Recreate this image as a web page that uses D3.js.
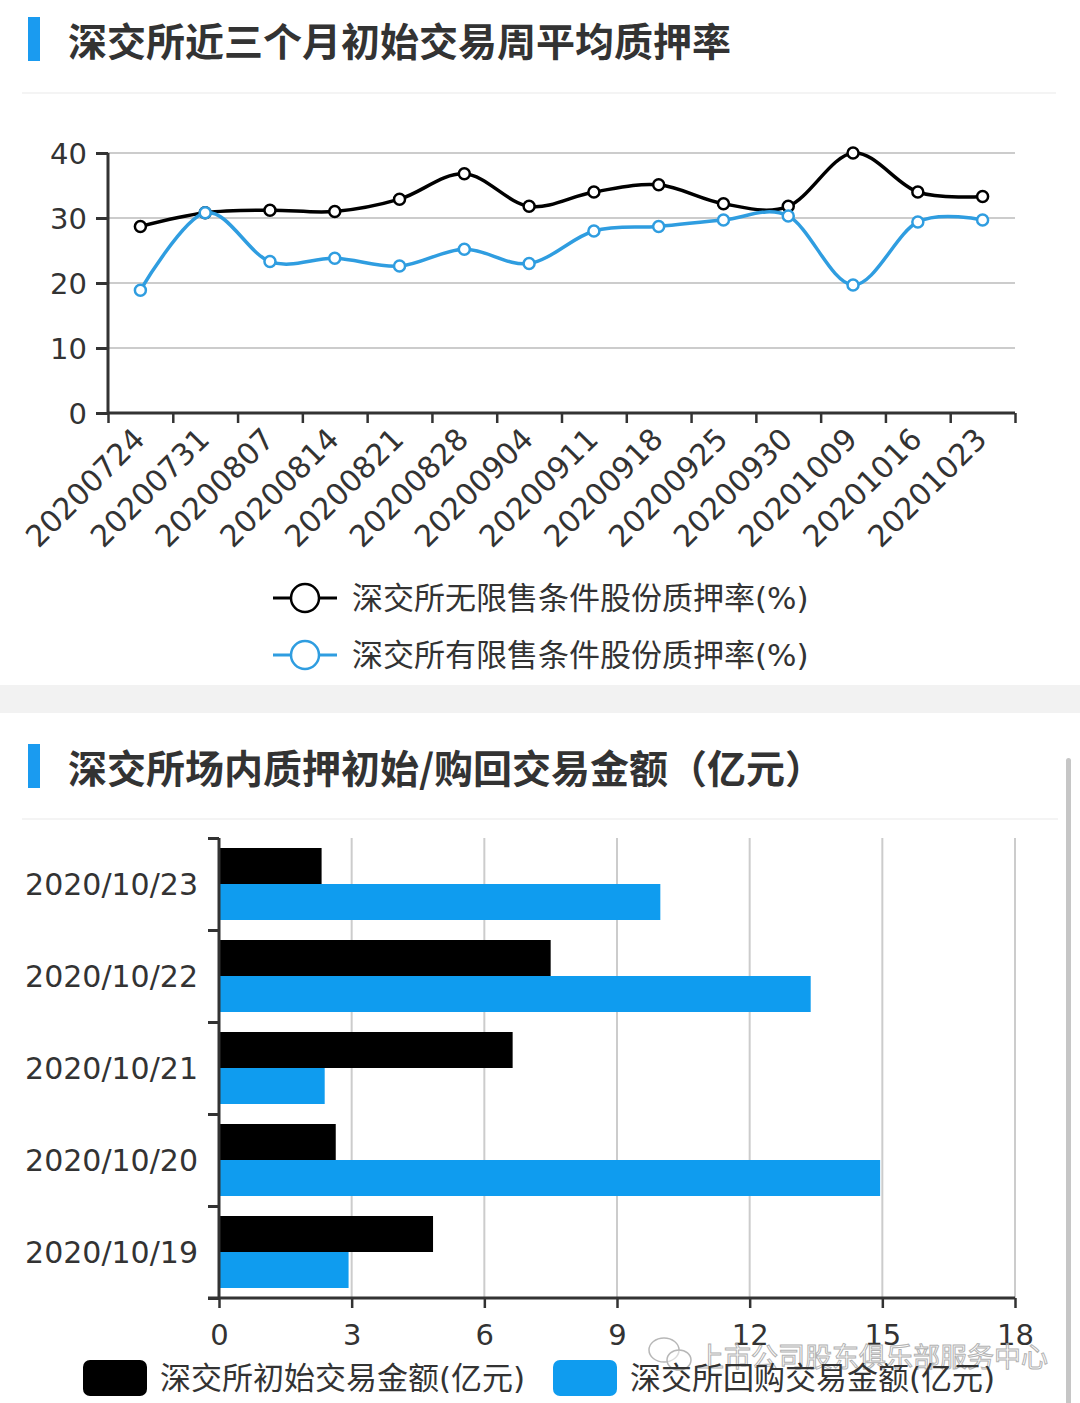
<!DOCTYPE html>
<html><head><meta charset="utf-8">
<script src="https://cdn.jsdelivr.net/npm/d3@7"></script>
<style>
html,body{margin:0;padding:0;background:#fff;}
svg{display:block;font-family:"Noto Sans CJK SC","Noto Sans",sans-serif;}
</style></head><body>
<svg id="c" width="1080" height="1403"></svg>
<script>
// ---- data ----
const title1 = "深交所近三个月初始交易周平均质押率";
const title2 = "深交所场内质押初始/购回交易金额（亿元）";
const weeks = ["20200724","20200731","20200807","20200814","20200821","20200828","20200904","20200911","20200918","20200925","20200930","20201009","20201016","20201023"];
const unrestrictedRate = [28.7,30.8,31.2,31.0,32.9,36.8,31.8,34.0,35.1,32.2,31.8,40.0,34.0,33.3];
const restrictedRate = [18.9,30.8,23.3,23.8,22.6,25.2,23.0,28.0,28.7,29.7,30.3,19.7,29.4,29.7];
const rateTicks = [0,10,20,30,40];
const lineNames = ["深交所无限售条件股份质押率(%)","深交所有限售条件股份质押率(%)"];

const days = ["2020/10/23","2020/10/22","2020/10/21","2020/10/20","2020/10/19"];
const initialAmount = [2.32,7.5,6.64,2.64,4.84];
const repoAmount = [9.98,13.38,2.39,14.95,2.93];
const amountTicks = [0,3,6,9,12,15,18];
const barNames = ["深交所初始交易金额(亿元)","深交所回购交易金额(亿元)"];
const watermark = "上市公司股东俱乐部服务中心";

const BLACK = "#000000", LINEBLUE = "#2f9de0", BARBLUE = "#0f9cef", TXT = "#333333", GRID = "#cccccc", AX = "#333333";
const NUMFONT = "'DejaVu Sans','Noto Sans CJK SC',sans-serif";
const MIXFONT = "'DejaVu Sans','Noto Sans CJK SC',sans-serif";

const svg = d3.select("#c");

// ---- page chrome ----
svg.append("rect").attr("x",0).attr("y",685).attr("width",1080).attr("height",28).attr("fill","#f2f2f2");
svg.append("rect").attr("x",22).attr("y",92).attr("width",1034).attr("height",2).attr("fill","#f4f4f4");
svg.append("rect").attr("x",22).attr("y",818).attr("width",1036).attr("height",2).attr("fill","#f4f4f4");
svg.append("rect").attr("x",1066).attr("y",758).attr("width",5).attr("height",660).attr("rx",2.5).attr("fill","#c6c6c6");

function title(y, text){
  svg.append("rect").attr("x",28).attr("y",y-22).attr("width",12).attr("height",44).attr("fill","#1a9bf0");
  svg.append("text").attr("x",68).attr("y",y).attr("dominant-baseline","central")
    .attr("font-size",39).attr("font-weight","bold").attr("fill",TXT).text(text);
}
title(39, title1);
title(766, title2);

// ---- line chart ----
const L = {left:108, right:1015, top:153, bottom:413};
const xb = d3.scaleBand().domain(weeks).range([L.left, L.right]);
const xEdge = d3.scaleLinear().domain([0, weeks.length]).range([L.left, L.right]);
const y1 = d3.scaleLinear().domain([0,40]).range([L.bottom, L.top]);

const g1 = svg.append("g");
g1.append("g").selectAll("line").data(rateTicks.filter(d=>d>0)).join("line")
  .attr("x1",L.left).attr("x2",L.right).attr("y1",d=>y1(d)).attr("y2",d=>y1(d))
  .attr("stroke",GRID).attr("stroke-width",2);
const ya = g1.append("g").attr("transform",`translate(${L.left},0)`)
  .call(d3.axisLeft(y1).tickValues(rateTicks).tickSize(12).tickPadding(9));
ya.select(".domain").attr("stroke",AX).attr("stroke-width",3).attr("d",`M0,${L.top}V${L.bottom}`);
ya.selectAll(".tick line").attr("stroke",AX).attr("stroke-width",3);
ya.selectAll(".tick text").attr("font-size",29).attr("fill",TXT).attr("font-family",NUMFONT).attr("dy","0.36em");
const xa = g1.append("g").attr("transform",`translate(0,${L.bottom})`)
  .call(d3.axisBottom(xEdge).tickValues(d3.range(weeks.length+1)).tickSize(10).tickFormat(""));
xa.select(".domain").attr("stroke",AX).attr("stroke-width",3).attr("d",`M${L.left},0H${L.right}`);
xa.selectAll(".tick line").attr("stroke",AX).attr("stroke-width",2.5);
const xl = g1.append("g").attr("transform",`translate(0,${L.bottom})`)
  .call(d3.axisBottom(xb).tickSize(0).tickPadding(0));
xl.select(".domain").remove();
xl.selectAll(".tick text").attr("font-size",30).attr("fill",TXT).attr("font-family",NUMFONT)
  .attr("text-anchor","end").attr("y",0).attr("dy","0")
  .attr("transform","translate(6,28) rotate(-45)");

const cx = (d,i)=> xb(weeks[i]) + xb.bandwidth()/2;
const lineGen = d3.line().x((d,i)=>cx(d,i)).y(d=>y1(d)).curve(d3.curveCardinal.tension(0));
function series(vals, color){
  g1.append("path").attr("d",lineGen(vals)).attr("fill","none").attr("stroke",color).attr("stroke-width",3.5);
  g1.append("g").selectAll("circle").data(vals).join("circle")
    .attr("cx",(d,i)=>cx(d,i)).attr("cy",d=>y1(d)).attr("r",5.5)
    .attr("fill","#fff").attr("stroke",color).attr("stroke-width",2.5);
}
series(unrestrictedRate, BLACK);
series(restrictedRate, LINEBLUE);

[BLACK, LINEBLUE].forEach((c,i)=>{
  const y = 598 + i*57;
  const lg = svg.append("g");
  lg.append("line").attr("x1",273).attr("x2",337).attr("y1",y).attr("y2",y).attr("stroke",c).attr("stroke-width",3);
  lg.append("circle").attr("cx",305).attr("cy",y).attr("r",14).attr("fill","#fff").attr("stroke",c).attr("stroke-width",2.5);
  lg.append("text").attr("x",352).attr("y",y).attr("dominant-baseline","central").attr("font-size",31)
    .attr("font-family",MIXFONT).attr("fill",TXT).text(lineNames[i]);
});

// ---- bar chart ----
const B = {left:219, right:1015, top:838, bottom:1298};
const x2 = d3.scaleLinear().domain([0,18]).range([B.left,B.right]);
const yb = d3.scaleBand().domain(days).range([B.top,B.bottom]);
const yEdge = d3.scaleLinear().domain([0,days.length]).range([B.top,B.bottom]);
const sub = d3.scaleBand().domain([0,1]).range([10, yb.bandwidth()-10]);
const g2 = svg.append("g");
g2.append("g").selectAll("line").data(amountTicks.filter(d=>d>0)).join("line")
  .attr("x1",d=>x2(d)).attr("x2",d=>x2(d)).attr("y1",B.top).attr("y2",B.bottom)
  .attr("stroke",GRID).attr("stroke-width",2);
const series2 = [initialAmount, repoAmount];
const cols2 = [BLACK, BARBLUE];
series2.forEach((vals,k)=>{
  g2.append("g").selectAll("rect").data(vals).join("rect")
    .attr("x",x2(0)).attr("y",(d,i)=>yb(days[i])+sub(k))
    .attr("width",d=>x2(d)-x2(0)).attr("height",sub.bandwidth()).attr("fill",cols2[k]);
});
const ya2 = g2.append("g").attr("transform",`translate(${B.left},0)`)
  .call(d3.axisLeft(yEdge).tickValues(d3.range(days.length+1)).tickSize(11).tickFormat(""));
ya2.select(".domain").attr("stroke",AX).attr("stroke-width",3).attr("d",`M0,${B.top}V${B.bottom}`);
ya2.selectAll(".tick line").attr("stroke",AX).attr("stroke-width",3);
const yl2 = g2.append("g").attr("transform",`translate(${B.left},0)`)
  .call(d3.axisLeft(yb).tickSize(0).tickPadding(21));
yl2.select(".domain").remove();
yl2.selectAll(".tick text").attr("font-size",30).attr("font-family",NUMFONT).attr("fill",TXT).attr("dy","0.36em");
const xa2 = g2.append("g").attr("transform",`translate(0,${B.bottom})`)
  .call(d3.axisBottom(x2).tickValues(amountTicks).tickSize(10).tickPadding(16));
xa2.select(".domain").attr("stroke",AX).attr("stroke-width",3).attr("d",`M${B.left-11},0H${B.right}`);
xa2.selectAll(".tick line").attr("stroke",AX).attr("stroke-width",2.5);
xa2.selectAll(".tick text").attr("font-size",29).attr("font-family",NUMFONT).attr("fill",TXT);

// watermark
const wm = svg.append("g").attr("opacity",0.9);
wm.append("ellipse").attr("cx",664).attr("cy",1350).attr("rx",15).attr("ry",12).attr("fill","rgba(255,255,255,0.5)").attr("stroke","#b0b0b0").attr("stroke-width",1.5);
wm.append("ellipse").attr("cx",679).attr("cy",1360).attr("rx",12).attr("ry",10).attr("fill","rgba(255,255,255,0.5)").attr("stroke","#b0b0b0").attr("stroke-width",1.5);
wm.append("text").attr("x",697).attr("y",1355).attr("dominant-baseline","central").attr("font-size",27)
  .attr("fill","rgba(255,255,255,0.6)").attr("stroke","#aaaaaa").attr("stroke-width",1).text(watermark);

[0,1].forEach(i=>{
  const x0 = i===0 ? 83 : 553;
  svg.append("rect").attr("x",x0).attr("y",1360).attr("width",64).attr("height",36).attr("rx",7).attr("fill",cols2[i]);
  svg.append("text").attr("x",x0+77).attr("y",1378).attr("dominant-baseline","central").attr("font-size",31)
    .attr("font-family",MIXFONT).attr("fill",TXT).text(barNames[i]);
});
</script>
</body></html>
